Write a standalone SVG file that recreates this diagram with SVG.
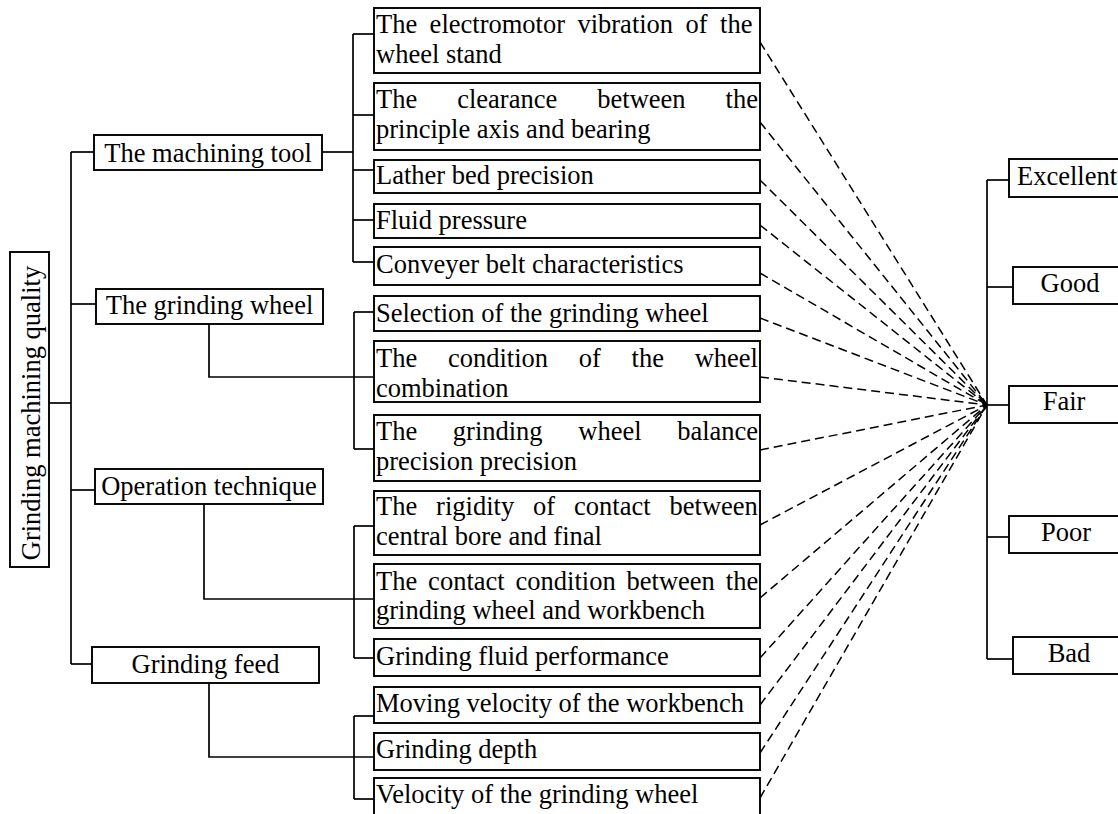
<svg xmlns="http://www.w3.org/2000/svg" width="1118" height="814" viewBox="0 0 1118 814">
<style>
.b{fill:#fff;stroke:#000;stroke-width:1.9}
.t{font-family:"Liberation Serif","Times New Roman",serif;font-size:26.5px;fill:#000}
.m{text-anchor:middle}
.c line,.c polyline{stroke:#000;stroke-width:1.7;fill:none}
.c .d{stroke-dasharray:9 5;stroke-width:1.5}
</style>
<rect width="1118" height="814" fill="#fff"/>
<g class="c" id="connectors">
<line x1="49" y1="403" x2="71" y2="403"/>
<line x1="71" y1="152" x2="71" y2="664"/>
<line x1="71" y1="152" x2="94" y2="152"/>
<line x1="71" y1="304" x2="96" y2="304"/>
<line x1="71" y1="490" x2="95" y2="490"/>
<line x1="71" y1="664" x2="92" y2="664"/>
<line x1="322" y1="152" x2="353" y2="152"/>
<line x1="353" y1="34" x2="353" y2="262"/>
<line x1="353" y1="34" x2="374" y2="34"/>
<line x1="353" y1="115" x2="374" y2="115"/>
<line x1="353" y1="170" x2="374" y2="170"/>
<line x1="353" y1="220" x2="374" y2="220"/>
<line x1="353" y1="262" x2="374" y2="262"/>
<polyline points="209,324 209,377 374,377"/>
<line x1="354" y1="312" x2="354" y2="449"/>
<line x1="354" y1="312" x2="374" y2="312"/>
<line x1="354" y1="449" x2="374" y2="449"/>
<polyline points="204,504 204,599 374,599"/>
<line x1="354" y1="526" x2="354" y2="658"/>
<line x1="354" y1="526" x2="374" y2="526"/>
<line x1="354" y1="658" x2="374" y2="658"/>
<polyline points="209,683 209,757 374,757"/>
<line x1="354" y1="716" x2="354" y2="799"/>
<line x1="354" y1="716" x2="374" y2="716"/>
<line x1="354" y1="799" x2="374" y2="799"/>
<line x1="987" y1="180" x2="987" y2="659"/>
<line x1="987" y1="180" x2="1009" y2="180"/>
<line x1="987" y1="287" x2="1013" y2="287"/>
<line x1="987" y1="405" x2="1009" y2="405"/>
<line x1="987" y1="537" x2="1009" y2="537"/>
<line x1="987" y1="659" x2="1013" y2="659"/>
<line class="d" x1="760" y1="42" x2="987" y2="405"/>
<line class="d" x1="760" y1="122" x2="987" y2="405"/>
<line class="d" x1="760" y1="180" x2="987" y2="405"/>
<line class="d" x1="760" y1="225" x2="987" y2="405"/>
<line class="d" x1="760" y1="273" x2="987" y2="405"/>
<line class="d" x1="760" y1="318" x2="987" y2="405"/>
<line class="d" x1="760" y1="377" x2="987" y2="405"/>
<line class="d" x1="760" y1="450" x2="987" y2="405"/>
<line class="d" x1="760" y1="525" x2="987" y2="405"/>
<line class="d" x1="760" y1="598" x2="987" y2="405"/>
<line class="d" x1="760" y1="658" x2="987" y2="405"/>
<line class="d" x1="760" y1="705" x2="987" y2="405"/>
<line class="d" x1="760" y1="753" x2="987" y2="405"/>
<line class="d" x1="760" y1="798" x2="987" y2="405"/>
</g>
<g id="root"><rect class="b" x="10" y="252" width="39" height="315"/><text class="t m" transform="translate(40,413) rotate(-90)">Grinding machining quality</text></g>
<g id="machining-tool"><rect class="b" x="94" y="135" width="228" height="35"/><text class="t m" x="208" y="162">The machining tool</text></g>
<g id="grinding-wheel"><rect class="b" x="96" y="289" width="227" height="35"/><text class="t m" x="209.5" y="314">The grinding wheel</text></g>
<g id="operation-technique"><rect class="b" x="95" y="469" width="228" height="35"/><text class="t m" x="209" y="495">Operation technique</text></g>
<g id="grinding-feed"><rect class="b" x="92" y="647" width="227" height="36"/><text class="t m" x="205.5" y="673">Grinding feed</text></g>
<g id="c1"><rect class="b" x="374" y="8" width="386" height="65"/><text class="t" y="33"><tspan x="376" word-spacing="5.8">The electromotor vibration of the</tspan><tspan x="376" y="63">wheel stand</tspan></text></g>
<g id="c2"><rect class="b" x="374" y="83" width="386" height="67"/><text class="t" y="108"><tspan x="376" word-spacing="33.4">The clearance between the</tspan><tspan x="376" y="138">principle axis and bearing</tspan></text></g>
<g id="c3"><rect class="b" x="374" y="160" width="386" height="33"/><text class="t" x="376" y="184">Lather bed precision</text></g>
<g id="c4"><rect class="b" x="374" y="204" width="386" height="34"/><text class="t" x="376" y="229">Fluid pressure</text></g>
<g id="c5"><rect class="b" x="374" y="247" width="386" height="38"/><text class="t" x="376" y="273">Conveyer belt characteristics</text></g>
<g id="c6"><rect class="b" x="374" y="296" width="386" height="35"/><text class="t" x="376" y="322">Selection of the grinding wheel</text></g>
<g id="c7"><rect class="b" x="374" y="341" width="386" height="61"/><text class="t" y="367"><tspan x="376" word-spacing="24.1">The condition of the wheel</tspan><tspan x="376" y="397">combination</tspan></text></g>
<g id="c8"><rect class="b" x="374" y="415" width="386" height="66"/><text class="t" y="440"><tspan x="376" word-spacing="29.0">The grinding wheel balance</tspan><tspan x="376" y="470">precision precision</tspan></text></g>
<g id="c9"><rect class="b" x="374" y="491" width="386" height="64"/><text class="t" y="515"><tspan x="376" word-spacing="12.3">The rigidity of contact between</tspan><tspan x="376" y="545">central bore and final</tspan></text></g>
<g id="c10"><rect class="b" x="374" y="564" width="386" height="64"/><text class="t" y="590"><tspan x="376" word-spacing="4.3">The contact condition between the</tspan><tspan x="376" y="619">grinding wheel and workbench</tspan></text></g>
<g id="c11"><rect class="b" x="374" y="639" width="386" height="37"/><text class="t" x="376" y="665">Grinding fluid performance</text></g>
<g id="c12"><rect class="b" x="374" y="687" width="386" height="36"/><text class="t" x="376" y="712">Moving velocity of the workbench</text></g>
<g id="c13"><rect class="b" x="374" y="733" width="386" height="37"/><text class="t" x="376" y="758">Grinding depth</text></g>
<g id="c14"><rect class="b" x="374" y="778" width="386" height="50"/><text class="t" x="376" y="803">Velocity of the grinding wheel</text></g>
<g id="excellent"><rect class="b" x="1009" y="159" width="130" height="38"/><text class="t" x="1017" y="185">Excellent</text></g>
<g id="good"><rect class="b" x="1013" y="267" width="130" height="37"/><text class="t m" x="1070" y="292">Good</text></g>
<g id="fair"><rect class="b" x="1009" y="386" width="130" height="37"/><text class="t m" x="1064" y="410">Fair</text></g>
<g id="poor"><rect class="b" x="1009" y="516" width="130" height="37"/><text class="t m" x="1066" y="541">Poor</text></g>
<g id="bad"><rect class="b" x="1013" y="637" width="130" height="37"/><text class="t m" x="1069" y="662">Bad</text></g>
</svg>
